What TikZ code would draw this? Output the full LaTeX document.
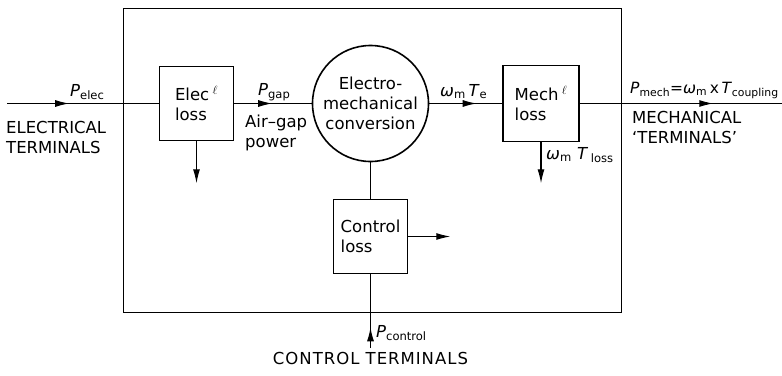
\documentclass[tikz,border=0pt]{standalone}
\usepackage{fontspec}
\setmainfont{DejaVu Sans}
\usetikzlibrary{arrows.meta,decorations.markings}
\newcommand{\tsub}[1]{\textsubscript{#1}}
\tikzset{
  lossbox/.style={draw, line width=1.6pt, minimum size=74pt, inner sep=0pt, align=left},
  convcircle/.style={draw, circle, line width=1.6pt, minimum size=116pt, inner sep=0pt, align=center},
  flow/.style={line width=1.1pt},
  midtip/.style={flow, postaction={decorate},
    decoration={markings, mark=at position #1 with {\arrow{Latex[length=14pt,width=7pt]}}}},
  endtip/.style={flow, -{Latex[length=14pt,width=7pt]}},
  lbl/.style={inner sep=0pt, align=left}
}
\begin{document}
\begin{tikzpicture}[x=1pt,y=-1pt,font=\fontsize{16.5}{20}\selectfont]
\useasboundingbox (0,0) rectangle (782,375);

% Machine frame
\draw[line width=0.9pt] (123,8) rectangle (621,312);

% Blocks
\node[lossbox] (elec) at (196.5,103.5) {Elec$^{\;\ell}$\\loss};
\node[convcircle] (conv) at (370.5,103.5) {Electro-\\mechanical\\conversion};
\node[lossbox, minimum size=76pt] (mech) at (541,103.5) {Mech$^{\;\ell}$\\loss};
\node[lossbox] (ctrl) at (370.5,236.5) {Control\\loss};

% Free ends
\coordinate (ein) at (7,103.5);
\coordinate (mout) at (782,103.5);
\coordinate (cin) at (370.5,348);
\coordinate (eloss) at ([yshift=-42pt]elec.south);
\coordinate (mloss) at ([yshift=-41pt]mech.south);
\coordinate (closs) at ([xshift=42pt]ctrl.east);

% Power flow
\draw[midtip=0.41] (ein) -- (elec);
\draw[midtip=0.49] (elec) -- (conv);
\draw[midtip=0.65] (conv) -- (mech);
\draw[midtip=0.66] (mech) -- (mout);
\draw[flow] (conv) -- (ctrl);
\draw[midtip=0.28] (cin) -- (ctrl);

% Losses
\draw[endtip] (elec) -- (eloss);
\draw[endtip] (mech) -- (mloss);
\draw[endtip] (ctrl) -- (closs);

% Labels
\node[lbl, anchor=south west] (pelec) at (70,100) {\textit{P}\tsub{elec}};
\node[lbl, anchor=north west] (eterm) at (6,121) {ELECTRICAL\\TERMINALS};
\node[lbl, anchor=south west] (pgap) at (258,101) {\textit{P}\tsub{gap}};
\node[lbl, anchor=north west] (airgap) at (245,115) {Air--gap\\power};
\node[lbl, anchor=south west] (wte) at (440,99) {\textit{ω}\tsub{m}\,\textit{T}\tsub{e}};
\node[lbl, anchor=north west] (wtloss) at (546,147) {\textit{ω}\tsub{m}\ \textit{T}\,\tsub{loss}};
\node[lbl, anchor=south west, font=\fontsize{15.5}{18}\selectfont] (pmech) at (630,99)
  {\textit{P}\tsub{mech}=\textit{ω}\tsub{m}\,x\,\textit{T}\tsub{coupling}};
\node[lbl, anchor=north west] (mterm) at (632,111) {MECHANICAL\\`TERMINALS'};
\node[lbl, anchor=west] (pctrl) at (376,333) {\textit{P}\tsub{control}};
\node[lbl, anchor=north] (cterm) at (370.5,352) {\addfontfeatures{LetterSpace=6}CONTROL TERMINALS};
\end{tikzpicture}
\end{document}
